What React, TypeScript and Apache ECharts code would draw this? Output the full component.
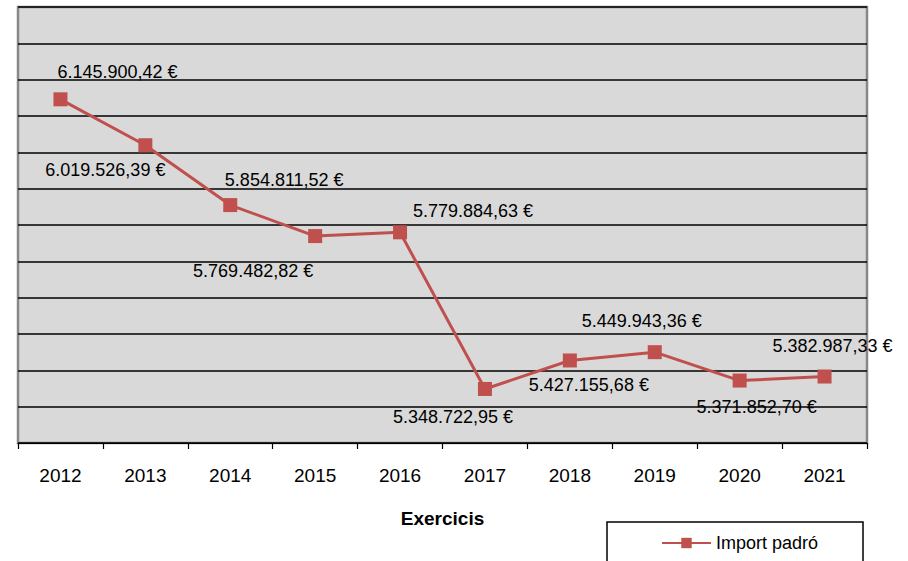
import React, { useEffect, useRef } from "react";
import * as echarts from "echarts";

const years = ["2012", "2013", "2014", "2015", "2016", "2017", "2018", "2019", "2020", "2021"];
const importPadro = [
  6145900.42, 6019526.39, 5854811.52, 5769482.82, 5779884.63,
  5348722.95, 5427155.68, 5449943.36, 5371852.7, 5382987.33,
];
const seriesName = "Import padró";
const axisTitle = "Exercicis";

// label placement (layout only)
const labelOffsets: [number, number][] = [
  [57, -27], [-40, 25], [54, -25], [-62, 35], [73, -21],
  [-32, 28], [19, 25], [-13, -31], [17, 26], [8, -31],
];

const FONT = "'Liberation Sans', Arial, sans-serif";

function fmtEuro(v: number): string {
  const [intPart, dec] = v.toFixed(2).split(".");
  const withDots = intPart.replace(/\B(?=(\d{3})+(?!\d))/g, ".");
  return `${withDots},${dec} €`;
}

export default function App() {
  const ref = useRef<HTMLDivElement>(null);
  useEffect(() => {
    if (!ref.current) return;
    const chart = echarts.init(ref.current, null, { renderer: "svg" });
    const red = "#c0504d";
    chart.setOption({
      animation: false,
      backgroundColor: "#ffffff",
      textStyle: { fontFamily: FONT },
      grid: {
        left: 18,
        top: 7,
        width: 849,
        height: 436,
        show: true,
        backgroundColor: "#d9d9d9",
        borderColor: "#888888",
        borderWidth: 2.5,
      },
      xAxis: {
        type: "category",
        data: years,
        boundaryGap: true,
        name: axisTitle,
        nameLocation: "middle",
        nameGap: 66,
        nameTextStyle: { fontFamily: FONT, fontSize: 19, fontWeight: "bold", color: "#000" },
        axisLine: { show: true, lineStyle: { color: "#000", width: 1.2 } },
        axisTick: { show: true, length: 6, lineStyle: { color: "#000", width: 1.2 } },
        axisLabel: { fontFamily: FONT, fontSize: 19, color: "#000", margin: 23 },
      },
      yAxis: {
        type: "value",
        min: 5200000,
        max: 6400000,
        interval: 100000,
        axisLabel: { show: false },
        axisLine: { show: false },
        axisTick: { show: false },
        splitLine: { show: true, lineStyle: { color: "#000", width: 1.5 } },
      },
      legend: {
        show: true,
        left: 661,
        top: 534,
        padding: 0,
        itemWidth: 49,
        itemHeight: 13,
        textStyle: { fontFamily: FONT, fontSize: 18, color: "#000" },
        data: [seriesName],
      },
      graphic: [
        {
          type: "rect",
          shape: { x: 607, y: 522, width: 256, height: 60 },
          style: { fill: "none", stroke: "#000", lineWidth: 1.5 },
          silent: true,
        },
      ],
      series: [
        {
          name: seriesName,
          type: "line",
          data: importPadro.map((v, i) => ({
            value: v,
            label: { offset: labelOffsets[i] },
          })),
          symbol: "rect",
          symbolSize: 14,
          lineStyle: { color: red, width: 3 },
          itemStyle: { color: red },
          label: {
            show: true,
            position: "inside",
            fontFamily: FONT,
            fontSize: 18,
            color: "#000",
            formatter: (p: any) => fmtEuro(p.value),
          },
        },
      ],
    });
    return () => chart.dispose();
  }, []);
  return (
    <div
      ref={ref}
      style={{ position: "absolute", left: 0, top: 0, width: 908, height: 561 }}
    />
  );
}
